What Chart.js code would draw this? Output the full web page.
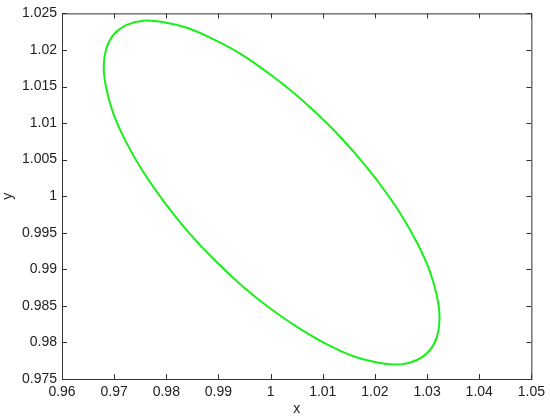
<!DOCTYPE html>
<html>
<head>
<meta charset="utf-8">
<script src="https://cdn.jsdelivr.net/npm/chart.js@4/dist/chart.umd.min.js"></script>
<style>
  html, body { margin: 0; padding: 0; background: #fff; }
  #wrap { width: 550px; height: 418px; }
</style>
</head>
<body>
<div id="wrap"><canvas id="chart"></canvas></div>
<script>
// puntos (elipse verde), empezando en un tramo casi recto
const curveX = [1.0163, 1.0112, 1.0058, 1.0002,
  0.9946, 0.9892, 0.9841, 0.9795, 0.9755, 0.9723, 0.9699, 0.9685, 0.9680, 0.9685,
  0.9699, 0.9723, 0.9755, 0.9795, 0.9841, 0.9892, 0.9946, 1.0002, 1.0058, 1.0112,
  1.0163, 1.0209, 1.0249, 1.0281, 1.0305, 1.0319, 1.0324, 1.0319, 1.0305, 1.0281,
  1.0249, 1.0209, 1.0163];
const curveY = [1.0058, 1.0097, 1.0133, 1.0165,
  1.0193, 1.0214, 1.0230, 1.0238, 1.0240, 1.0234, 1.0221, 1.0202, 1.0177, 1.0147,
  1.0112, 1.0074, 1.0034, 0.9993, 0.9952, 0.9913, 0.9877, 0.9845, 0.9818, 0.9796,
  0.9780, 0.9772, 0.9770, 0.9776, 0.9789, 0.9808, 0.9833, 0.9863, 0.9898, 0.9936,
  0.9976, 1.0017, 1.0058];

// marcas de los ejes
const xTicks = [0.96, 0.97, 0.98, 0.99, 1, 1.01, 1.02, 1.03, 1.04, 1.05];
const xTickLabels = ['0.96', '0.97', '0.98', '0.99', '1', '1.01', '1.02', '1.03', '1.04', '1.05'];
const yTicks = [0.975, 0.98, 0.985, 0.99, 0.995, 1, 1.005, 1.01, 1.015, 1.02, 1.025];
const yTickLabels = ['0.975', '0.98', '0.985', '0.99', '0.995', '1', '1.005', '1.01', '1.015', '1.02', '1.025'];

const FONT = { family: 'Liberation Sans, Arial, sans-serif', size: 14 };

// caja + marcas hacia adentro (estilo MATLAB)
const boxTicks = {
  id: 'boxTicks',
  afterDraw(chart){
    const { ctx, chartArea: a, scales } = chart;
    const len = 5;
    ctx.save();
    ctx.strokeStyle = '#333';
    ctx.lineWidth = 1;
    ctx.strokeRect(a.left + 0.5, a.top + 0.5, a.right - a.left, a.bottom - a.top);
    ctx.beginPath();
    xTicks.forEach(v => {
      const px = Math.round(scales.x.getPixelForValue(v)) + 0.5;
      ctx.moveTo(px, a.bottom); ctx.lineTo(px, a.bottom - len);
      ctx.moveTo(px, a.top); ctx.lineTo(px, a.top + len);
    });
    yTicks.forEach(v => {
      const py = Math.round(scales.y.getPixelForValue(v)) + 0.5;
      ctx.moveTo(a.left, py); ctx.lineTo(a.left + len, py);
      ctx.moveTo(a.right, py); ctx.lineTo(a.right - len, py);
    });
    ctx.stroke();
    ctx.restore();
  }
};

const points = curveX.map((x, i) => ({ x, y: curveY[i] }));

new Chart(document.getElementById('chart'), {
  type: 'scatter',
  data: {
    datasets: [{
      data: points,
      showLine: true,
      borderColor: '#19f019',
      borderWidth: 2,
      pointRadius: 0,
      tension: 0.4,
      fill: false
    }]
  },
  options: {
    responsive: true,
    maintainAspectRatio: false,
    animation: false,
    layout: { padding: { top: 8, right: 17, left: 0, bottom: 0 } },
    plugins: { legend: { display: false }, tooltip: { enabled: false } },
    scales: {
      x: {
        type: 'linear',
        min: 0.96, max: 1.05,
        afterBuildTicks: s => { s.ticks = xTicks.map(v => ({ value: v })); },
        afterFit: s => { s.height = 39; },
        grid: { display: false, drawTicks: false },
        border: { display: false },
        ticks: {
          color: '#222', font: FONT, padding: 5, maxRotation: 0, autoSkip: false,
          callback: (v, i) => xTickLabels[i]
        },
        title: { display: true, text: 'x', color: '#222', font: FONT, padding: { top: 0, bottom: 0 } }
      },
      y: {
        type: 'linear',
        min: 0.975, max: 1.025,
        afterBuildTicks: s => { s.ticks = yTicks.map(v => ({ value: v })); },
        afterFit: s => { s.width = 62; },
        grid: { display: false, drawTicks: false },
        border: { display: false },
        ticks: {
          color: '#222', font: FONT, padding: 5, autoSkip: false,
          callback: (v, i) => yTickLabels[i]
        },
        title: { display: true, text: 'y', color: '#222', font: FONT, padding: { top: 0, bottom: 0 } }
      }
    }
  },
  plugins: [boxTicks]
});
</script>
</body>
</html>
